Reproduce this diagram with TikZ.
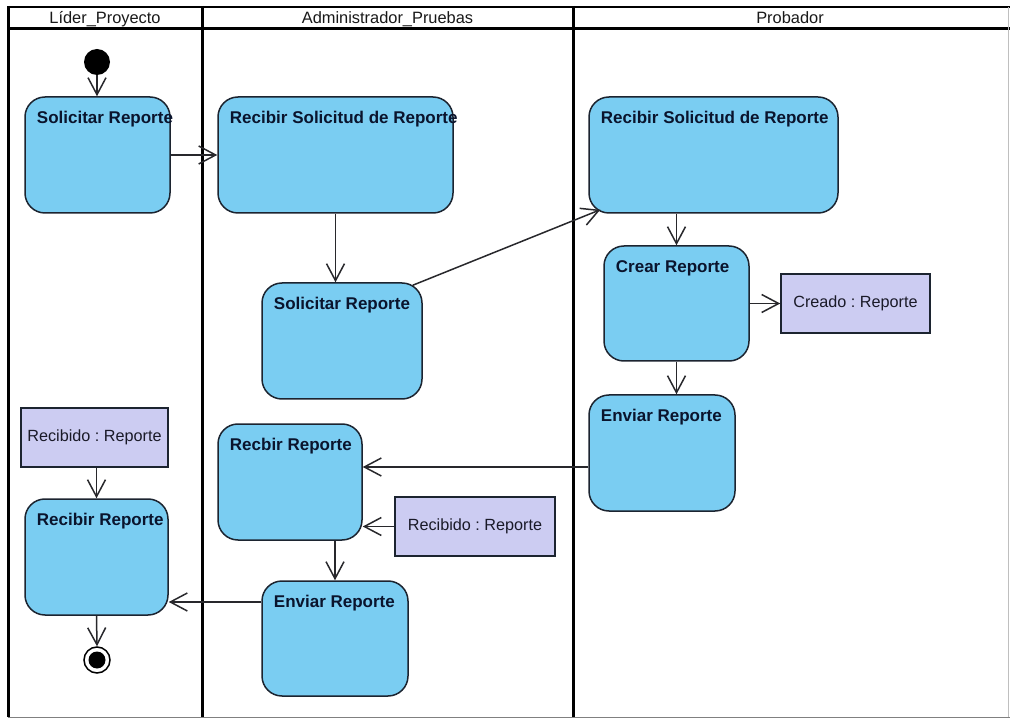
\documentclass[tikz,border=0pt]{standalone}
\usepackage{fontspec}
\setmainfont{Liberation Sans}
\usetikzlibrary{arrows.meta,calc}
\definecolor{actfill}{RGB}{122,205,242}
\definecolor{objfill}{RGB}{204,204,242}
\definecolor{bordercol}{RGB}{28,36,48}
\definecolor{edgecol}{RGB}{40,40,44}
\definecolor{labelcol}{RGB}{10,20,45}
\definecolor{textcol}{RGB}{26,26,40}
\frenchspacing
\begin{document}
\begin{tikzpicture}[x=1pt,y=-1pt,
  action/.style={draw=bordercol, line width=1.5pt, fill=actfill,
    rounded corners=20pt, inner sep=0pt},
  actlbl/.style={anchor=base west, xshift=12.5pt, yshift=-27pt, inner sep=0pt,
    font=\fontsize{17}{20}\selectfont\bfseries, text=labelcol},
  alabel/.style={label={[actlbl]north west:#1}},
  objbox/.style={draw=bordercol, line width=1.5pt, fill=objfill, inner sep=0pt,
    font=\fontsize{16.2}{19}\selectfont, text=textcol},
  lanehead/.style={anchor=base, inner sep=0pt,
    font=\fontsize{16.4}{19}\selectfont, text=black!90},
  flow/.style={draw=edgecol, line width=1.5pt,
    -{Straight Barb[length=17pt,width=18pt]}},
  lane/.style={line width=3pt, black}]

% canvas
\useasboundingbox (0,0) rectangle (1010,719);
\fill[white] (0,0) rectangle (1010,719);

% swimlane frame
\draw[line width=2pt] (7,7) -- (1010,7);
\draw[lane] (7,29) -- (1010,29);
\draw[lane] (8,6) -- (8,717);
\draw[lane] (202,6) -- (202,717);
\draw[lane] (573,6) -- (573,717);
\draw[gray, line width=1.2pt] (8,717.5) -- (1010,717.5);
\draw[gray!50, line width=1pt] (1008.5,7) -- (1008.5,717);

% lane headers
\node[lanehead] (hL) at (105,24) {Líder\_Proyecto};
\node[lanehead] (hA) at (387.5,24) {Administrador\_Pruebas};
\node[lanehead] (hP) at (790,24) {Probador};

% initial and final states
\node[circle, fill=black, minimum size=26pt, inner sep=0pt] (ini) at (97,62) {};
\node[circle, draw=black, line width=1.5pt, fill=white, minimum size=26pt, inner sep=0pt] (fin) at (97,660) {};
\node[circle, fill=black, minimum size=17pt, inner sep=0pt] (finDot) at (fin) {};

% actions
\node[action, minimum width=145pt, minimum height=116pt, alabel={Solicitar Reporte}] (sL) at (97.5,155) {};
\node[action, minimum width=235pt, minimum height=116pt, alabel={Recibir Solicitud de Reporte}] (rsA) at (335.5,155) {};
\node[action, minimum width=249pt, minimum height=116pt, alabel={Recibir Solicitud de Reporte}] (rsP) at (713.5,155) {};
\node[action, minimum width=160pt, minimum height=116pt, alabel={Solicitar Reporte}] (solA) at (342,341) {};
\node[action, minimum width=145pt, minimum height=115pt, alabel={Crear Reporte}] (crear) at (676.5,303.5) {};
\node[action, minimum width=146pt, minimum height=116pt, alabel={Enviar Reporte}] (enviarP) at (662,453) {};
\node[action, minimum width=144pt, minimum height=116pt, alabel={Recbir Reporte}] (recbir) at (290,482) {};
\node[action, minimum width=143pt, minimum height=116pt, alabel={Recibir Reporte}] (recL) at (96.5,557) {};
\node[action, minimum width=146pt, minimum height=115pt, alabel={Enviar Reporte}] (enviarA) at (335,638.5) {};

% object nodes
\node[objbox, minimum width=149pt, minimum height=59pt] (creado) at (855.5,303.5) {Creado : Reporte};
\node[objbox, minimum width=147pt, minimum height=59pt] (recObjL) at (94.5,437.5) {Recibido : Reporte};
\node[objbox, minimum width=160pt, minimum height=59pt] (recObjA) at (475,526.5) {Recibido : Reporte};

% control and object flows
\draw[flow] (ini.south) -- (ini.south |- sL.north);
\draw[flow] (sL.east) -- (rsA.west);
\draw[flow] (rsA.south) -- (rsA.south |- solA.north);
\draw[flow] ([xshift=-10pt,yshift=-3pt]solA.north east) -- ([xshift=12pt,yshift=4pt]rsP.south west);
\draw[flow] (crear.north |- rsP.south) -- (crear.north);
\draw[flow] (crear.east) -- (creado.west);
\draw[flow] (crear.south) -- (crear.south |- enviarP.north);
\coordinate (ep) at ([yshift=-14pt]enviarP.west);
\draw[flow] (ep) -- (ep -| recbir.east);
\draw[flow] (recObjA.west) -- (recObjA.west -| recbir.east);
\draw[flow] (enviarA.north |- recbir.south) -- (enviarA.north);
\coordinate (ea) at ([yshift=36.5pt]enviarA.west);
\draw[flow] (ea) -- (ea -| recL.east);
\draw[flow] (recL.north |- recObjL.south) -- (recL.north);
\draw[flow] (recL.south) -- (fin.north);
\end{tikzpicture}
\end{document}
